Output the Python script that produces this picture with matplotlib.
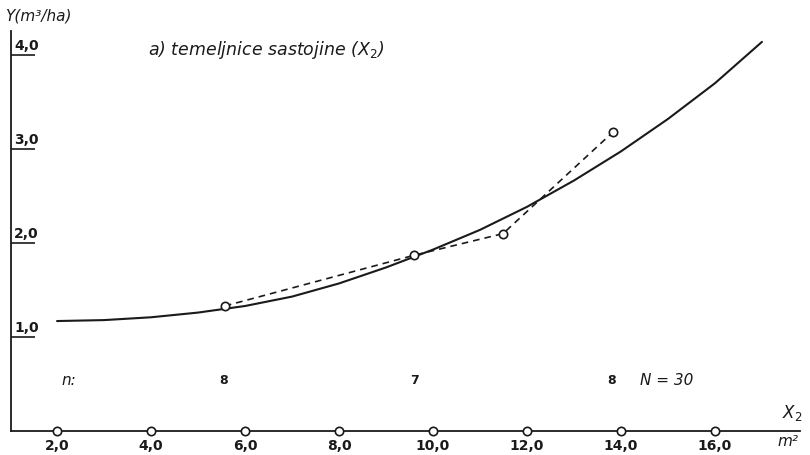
import matplotlib
matplotlib.use("Agg")
import matplotlib.pyplot as plt
import matplotlib.transforms as mtransforms

# ---- data ----
curve_x = [2.0, 3.0, 4.0, 5.0, 6.0, 7.0, 8.0, 9.0, 10.0, 11.0, 12.0, 13.0, 14.0, 15.0, 16.0, 17.0]
curve_y = [1.17, 1.18, 1.21, 1.26, 1.33, 1.43, 1.57, 1.74, 1.93, 2.14, 2.385, 2.665, 2.975, 3.32, 3.70, 4.14]

obs_x = [5.57, 9.60, 11.49, 13.83]
obs_y = [1.33, 1.87, 2.10, 3.18]

n_labels = ["8", "7", "8"]
n_x = [5.55, 9.6, 13.8]

x_ticks = [2.0, 4.0, 6.0, 8.0, 10.0, 12.0, 14.0, 16.0]
x_ticklabels = ["2,0", "4,0", "6,0", "8,0", "10,0", "12,0", "14,0", "16,0"]
y_ticks = [1.0, 2.0, 3.0, 4.0]
y_ticklabels = ["1,0", "2,0", "3,0", "4,0"]

# ---- figure ----
W, H = 810, 456
fig = plt.figure(figsize=(W / 100, H / 100), dpi=100)
fig.patch.set_facecolor("white")
ax = fig.add_axes([11 / W, (H - 432) / H, 789 / W, 422 / H])
ax.set_xlim(1.02, 17.81)
ax.set_ylim(0, 4.49)
ax.set_facecolor("white")

ink = "#1a1a1a"
for s in ["top", "right"]:
    ax.spines[s].set_visible(False)
ax.spines["left"].set_bounds(0, 4.26)
ax.spines["left"].set_color(ink)
ax.spines["bottom"].set_color(ink)
ax.spines["left"].set_linewidth(1.3)
ax.spines["bottom"].set_linewidth(1.3)

# fitted curve
ax.plot(curve_x, curve_y, color=ink, lw=1.5, solid_capstyle="round",
        solid_joinstyle="round", zorder=3)
# observed means
ax.plot(obs_x, obs_y, color=ink, lw=1.2, ls=(0, (4, 3)), zorder=3)
ax.plot(obs_x, obs_y, ls="none", marker="o", ms=6, mfc="white", mec=ink, mew=1.2, zorder=4)

# x ticks: circles on axis
ax.set_xticks(x_ticks)
ax.set_xticklabels(x_ticklabels, fontsize=10, fontweight="bold", color=ink)
ax.tick_params(axis="x", length=0, pad=5)
ax.plot(x_ticks, [0] * len(x_ticks), ls="none", marker="o", ms=6, mfc="white",
        mec=ink, mew=1.2, clip_on=False, zorder=5)

# y ticks: inward underline with label above
ax.set_yticks(y_ticks)
ax.set_yticklabels([])
ax.tick_params(axis="y", direction="in", length=17.5, width=1.2, color=ink)
trans = mtransforms.blended_transform_factory(ax.transAxes, ax.transData)
for yv, lab in zip(y_ticks, y_ticklabels):
    ax.text(0.004, yv + 0.03, lab, transform=trans, fontsize=10, fontweight="bold",
            color=ink, ha="left", va="bottom")

# texts
ax.text(0.0 - 6 / 789, 4.43, "Y(m³/ha)", transform=trans, fontsize=11, style="italic",
        color=ink, ha="left", va="center", clip_on=False)
ax.text(148 / W, 1 - 50 / H, "a) temeljnice sastojine (X$_2$)", transform=fig.transFigure,
        fontsize=12.5, style="italic", color=ink, ha="left", va="center")
ax.text(2.1, 0.55, "n:", fontsize=11, style="italic", color=ink, ha="left", va="center")
for xv, lab in zip(n_x, n_labels):
    ax.text(xv, 0.55, lab, fontsize=9, fontweight="bold", color=ink, ha="center", va="center")
ax.text(14.4, 0.55, "N = 30", fontsize=11, style="italic", color=ink, ha="left", va="center")
ax.text(17.65, 0.2, "X$_2$", fontsize=12, style="italic", color=ink, ha="center", va="center")
ax.text(17.55, -0.1, "m²", fontsize=11, style="italic", color=ink, ha="center", va="center",
        clip_on=False)

fig.savefig("out.png", dpi=100, facecolor="white")
